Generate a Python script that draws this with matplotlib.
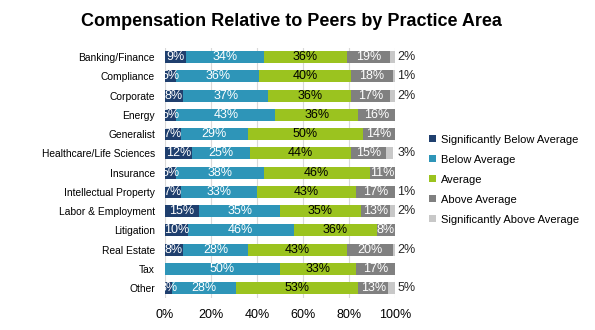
import numpy as np
import matplotlib.pyplot as plt

plt.rcParams['font.family'] = ['Liberation Sans', 'DejaVu Sans']

# 資料
areas = ["Banking/Finance", "Compliance", "Corporate", "Energy", "Generalist",
         "Healthcare/Life Sciences", "Insurance", "Intellectual Property",
         "Labor & Employment", "Litigation", "Real Estate", "Tax", "Other"]
sig_below = [9, 5, 8, 5, 7, 12, 5, 7, 15, 10, 8, 0, 3]
below = [34, 36, 37, 43, 29, 25, 38, 33, 35, 46, 28, 50, 28]
average = [36, 40, 36, 36, 50, 44, 46, 43, 35, 36, 43, 33, 53]
above = [19, 18, 17, 16, 14, 15, 11, 17, 13, 8, 20, 17, 13]
sig_above = [2, 1, 2, 0, 0, 3, 0, 1, 2, 0, 2, 0, 5]

series = [sig_below, below, average, above, sig_above]
names = ["Significantly Below Average", "Below Average", "Average",
         "Above Average", "Significantly Above Average"]
colors = ["#1f3f6e", "#2e95b8", "#9bc31f", "#808080", "#c8c8c8"]
text_colors = ["white", "white", "black", "white", None]

fig = plt.figure(figsize=(5.95, 3.3), dpi=100)
ax = fig.add_axes([0.277, 0.098, 0.387, 0.758])

y = np.arange(len(areas))
left = np.zeros(len(areas))
for s, name, c, tc in zip(series, names, colors, text_colors):
    vals = np.array(s, dtype=float)
    ax.barh(y, vals, left=left, height=0.62, color=c, label=name, zorder=2)
    for i, v in enumerate(vals):
        if v <= 0:
            continue
        if tc is None:
            # 外側標籤
            ax.text(101, i, "%d%%" % v, va="center", ha="left", fontsize=9,
                    color="#262626", clip_on=False)
        else:
            ax.text(left[i] + v / 2, i, "%d%%" % v, va="center", ha="center",
                    fontsize=9, color=tc, clip_on=True, zorder=3)
    left = left + vals

ax.set_xlim(0, 100)
ax.set_ylim(len(areas) - 0.5, -0.5)
ax.set_yticks(y)
ax.set_yticklabels(areas, fontsize=7.4)
ax.set_xticks(np.arange(0, 101, 20))
ax.set_xticklabels(["%d%%" % t for t in range(0, 101, 20)], fontsize=9)
ax.tick_params(axis="y", length=0, pad=7)
ax.tick_params(axis="x", length=0, pad=8)
ax.xaxis.grid(True, color="#d9d9d9", linewidth=0.8, zorder=0)
for sp in ax.spines.values():
    sp.set_visible(False)

fig.suptitle("Compensation Relative to Peers by Practice Area", fontsize=13,
             fontweight="bold", x=0.49, y=0.96)

fig.legend(loc="center left", bbox_to_anchor=(0.705, 0.455), frameon=False,
           fontsize=8, handlelength=0.6, handleheight=0.6, handletextpad=0.4,
           labelspacing=0.9)

plt.savefig("out.png", dpi=100)
